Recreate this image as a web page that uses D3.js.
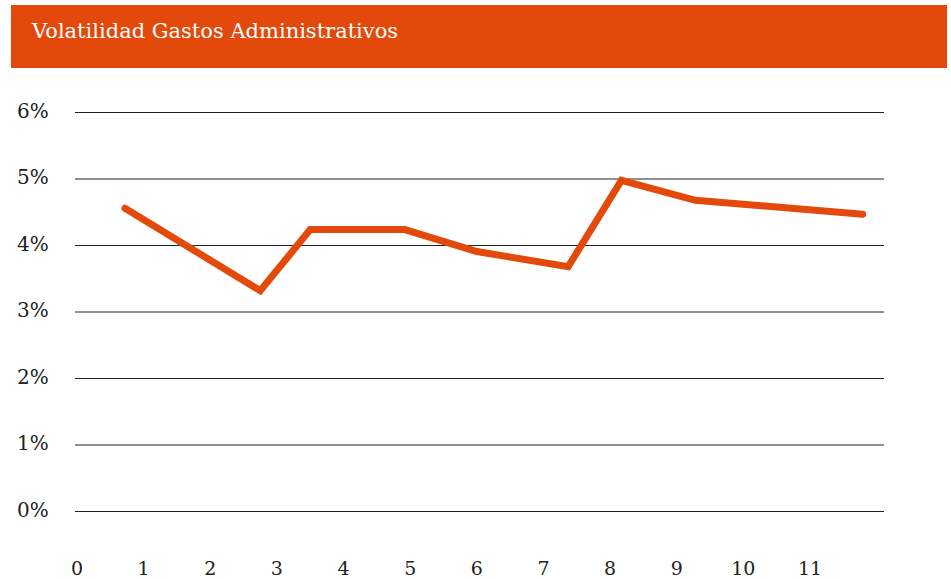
<!DOCTYPE html>
<html>
<head>
<meta charset="utf-8">
<script src="https://cdn.jsdelivr.net/npm/d3@7"></script>
<style>
  body { margin: 0; background: #fff; }
  text { font-family: "DejaVu Serif", "Liberation Serif", serif; }
</style>
</head>
<body>
<script>
var title = 'Volatilidad Gastos Administrativos';
var xTicks = [0, 1, 2, 3, 4, 5, 6, 7, 8, 9, 10, 11];
var yTicks = [0, 1, 2, 3, 4, 5, 6];
// line points (x position on the 0-11 axis, value in %)
var pointX = [0.72, 2.75, 3.5, 4.92, 6.0, 7.37, 8.17, 9.28, 11.79];
var pointY = [4.56, 3.32, 4.24, 4.24, 3.91, 3.68, 4.98, 4.68, 4.47];

var width = 951, height = 579;
var orange = '#e2490a';

var svg = d3.select('body')
  .append('svg')
  .attr('width', width)
  .attr('height', height);

// title bar
svg.append('rect')
  .attr('x', 11)
  .attr('y', 5)
  .attr('width', 936)
  .attr('height', 63)
  .attr('fill', orange);

svg.append('text')
  .attr('x', 32)
  .attr('y', 38)
  .attr('fill', '#fff')
  .attr('font-size', 21)
  .text(title);

var x = d3.scaleLinear().domain([0, 11]).range([77, 810]);
var y = d3.scaleLinear().domain([0, 6]).range([511.5, 112.5]);

// gridlines + y labels
var yAxis = svg.append('g')
  .selectAll('g')
  .data(yTicks)
  .enter()
  .append('g');

yAxis.append('line')
  .attr('x1', 75)
  .attr('x2', 884)
  .attr('y1', function(d) { return y(d); })
  .attr('y2', function(d) { return y(d); })
  .attr('stroke', '#222')
  .attr('stroke-width', 1);

yAxis.append('text')
  .attr('x', 17)
  .attr('y', function(d) { return y(d) + 5; })
  .attr('font-size', 20)
  .attr('fill', '#222')
  .text(function(d) { return d + '%'; });

// x labels
svg.append('g')
  .selectAll('text')
  .data(xTicks)
  .enter()
  .append('text')
  .attr('x', function(d) { return x(d); })
  .attr('y', 575)
  .attr('text-anchor', 'middle')
  .attr('font-size', 19)
  .attr('fill', '#222')
  .text(function(d) { return d; });

// line
var points = pointX.map(function(v, i) { return [v, pointY[i]]; });

var line = d3.line()
  .x(function(d) { return x(d[0]); })
  .y(function(d) { return y(d[1]); });

svg.append('path')
  .datum(points)
  .attr('d', line)
  .attr('fill', 'none')
  .attr('stroke', orange)
  .attr('stroke-width', 7)
  .attr('stroke-linecap', 'round')
  .attr('stroke-linejoin', 'miter');
</script>
</body>
</html>
